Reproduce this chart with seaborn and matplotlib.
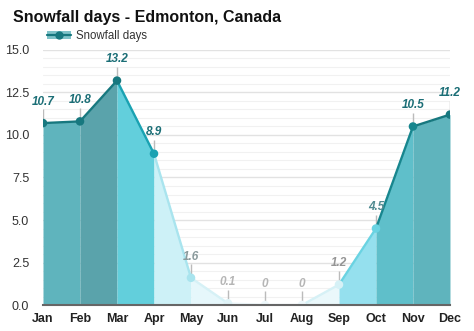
import numpy as np
import pandas as pd
import matplotlib
matplotlib.use("Agg")
import matplotlib.pyplot as plt
import seaborn as sns
from matplotlib.lines import Line2D
from matplotlib.patches import Patch

months = ["Jan", "Feb", "Mar", "Apr", "May", "Jun", "Jul", "Aug", "Sep", "Oct", "Nov", "Dec"]
snow_days = [10.7, 10.8, 13.2, 8.9, 1.6, 0.1, 0, 0, 1.2, 4.5, 10.5, 11.2]
value_labels = ["10.7", "10.8", "13.2", "8.9", "1.6", "0.1", "0", "0", "1.2", "4.5", "10.5", "11.2"]
yticks = [0.0, 2.5, 5.0, 7.5, 10.0, 12.5, 15.0]

# segment styles (between month i and i+1)
fill_colors = ["#5fb4bd", "#5aa3ab", "#62cfdc", "#cdf1f7", "#e6f7fb", "#f7fcfd",
               "#f7fcfd", "#eaf8fb", "#95e0ee", "#5fbfca", "#5fb4bd"]
line_colors = ["#17787f", "#17787f", "#1aa2b2", "#a9e4ee", "#d6f1f6", "#eef8fb",
               "#eef8fb", "#d6f1f6", "#6ad3e2", "#17868e", "#17787f"]
point_colors = ["#17787f", "#17787f", "#17787f", "#1aa2b2", "#a9e4ee", "#dff3f7",
                "#eef8fb", "#eef8fb", "#d6f1f6", "#6ad3e2", "#17868e", "#17787f"]
label_colors = ["#1b6e76", "#1b6e76", "#1b6e76", "#1b6e76", "#8a9a9c", "#b5b5b5",
                "#b5b5b5", "#b5b5b5", "#959595", "#4f8a90", "#1b6e76", "#1b6e76"]

sns.set_style("white")
plt.rcParams['font.family'] = ['Liberation Sans', 'DejaVu Sans']

fig = plt.figure(figsize=(4.74, 3.31), dpi=100)
ax = fig.add_axes([0.0907, 0.0785, 0.8586, 0.7705])

x = np.arange(len(months))
y = np.array(snow_days)

# fills per segment
for i in range(len(months) - 1):
    ax.fill_between(x[i:i + 2], y[i:i + 2], 0, color=fill_colors[i], lw=0, zorder=1)

# line segments via seaborn
rows = []
for i in range(len(months) - 1):
    for j in (i, i + 1):
        rows.append({"x": x[j], "y": y[j], "seg": i})
seg_df = pd.DataFrame(rows)
sns.lineplot(data=seg_df, x="x", y="y", hue="seg", palette=line_colors,
             legend=False, ax=ax, lw=1.7, zorder=3, estimator=None, sort=False)

pt_df = pd.DataFrame({"x": x, "y": y, "m": months})
sns.scatterplot(data=pt_df, x="x", y="y", hue="m", palette=point_colors,
                legend=False, ax=ax, s=38, edgecolor="none", zorder=4)

# value labels with small tick lines
for i in range(len(months)):
    ax.plot([x[i], x[i]], [y[i] + 0.25, y[i] + 0.8], color="#bbbbbb", lw=1, zorder=2,
            solid_capstyle="butt")
    ax.text(x[i], y[i] + 0.9, value_labels[i], ha="center", va="bottom",
            fontsize=8.5, fontweight="bold", fontstyle="italic", color=label_colors[i], zorder=5)

ax.set_xlim(0, 11)
ax.set_ylim(0, 15)
ax.set_yticks(yticks)
ax.set_yticklabels([f"{v:.1f}" for v in yticks], fontsize=9, color="#333333")
ax.set_yticks(np.arange(0, 15.01, 0.5), minor=True)
ax.set_xticks(x)
ax.set_xticklabels(months, fontsize=9, fontweight="bold", color="#222222")
ax.tick_params(axis="both", length=0, pad=6)
ax.tick_params(axis="y", pad=10)
ax.grid(axis="y", which="major", color="#e2e2e2", lw=1, zorder=0)
ax.grid(axis="y", which="minor", color="#f1f1f1", lw=0.8, zorder=0)
ax.set_axisbelow(True)
for s in ["left", "right", "top"]:
    ax.spines[s].set_visible(False)
ax.spines["bottom"].set_color("#666666")
ax.spines["bottom"].set_linewidth(1.5)
ax.spines["bottom"].set_zorder(6)
ax.set_xlabel("")
ax.set_ylabel("")

fig.text(0.0275, 0.948, "Snowfall days - Edmonton, Canada", fontsize=11.5, fontweight="bold",
         color="#111111", va="center", ha="left")

handle_patch = Patch(facecolor="#7fc3c9", edgecolor="none")
handle_line = Line2D([], [], color="#17787f", lw=1.6, marker="o", markersize=5)
leg = fig.legend(handles=[(handle_patch, handle_line)], labels=["Snowfall days"],
                 loc="center left", bbox_to_anchor=(0.088, 0.891), frameon=False,
                 fontsize=8.3, handlelength=2.0, handletextpad=0.45, borderpad=0)
for t in leg.get_texts():
    t.set_color("#333333")

fig.savefig("out.png", dpi=100)
